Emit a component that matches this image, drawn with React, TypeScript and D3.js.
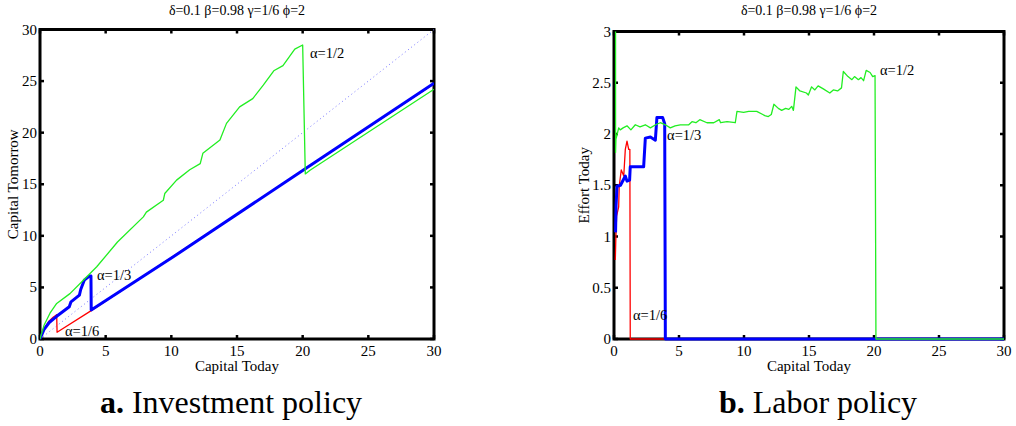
import React from "react";
import * as d3 from "d3";

type P = [number, number];

// ---------- Panel a: Investment policy (Capital Tomorrow vs Capital Today)
const invAlphaHalf: P[] = [
  [0, 0], [0.3, 1.3], [0.76, 2.5], [1.27, 3.45], [2.28, 4.4], [3.3, 5.7], [4.32, 7.0],
  [5.9, 9.4], [7.87, 11.84], [8.1, 12.3], [9.39, 13.45], [9.5, 14.1], [10.4, 15.4],
  [11.4, 16.4], [12.2, 17.0], [12.4, 18.0], [13.7, 19.3], [14.2, 20.9], [15.2, 22.5],
  [16.2, 23.3], [17.0, 24.6], [17.8, 26.0], [18.5, 26.5], [19.4, 28.1], [20.0, 28.5],
  [20.2, 16.0], [20.56, 16.36], [24.9, 19.96], [30, 24.2],
];
const invAlphaThird: P[] = [
  [0, 0], [0.3, 0.9], [0.7, 1.6], [1.27, 2.2], [2.23, 3.13], [2.36, 3.6], [3.0, 4.26],
  [3.1, 4.8], [3.37, 5.7], [3.76, 6.1], [3.88, 6.1], [3.9, 2.8], [10.15, 7.97],
  [20.2, 16.5], [30, 24.8],
];
const invAlphaSixth: P[] = [
  [0, 0], [0.3, 0.95], [0.7, 1.75], [1.0, 2.1], [1.27, 2.35], [1.3, 0.65], [3.9, 2.75],
  [30, 24.75],
];
const invDiagonal: P[] = [[0, 0], [30, 30]];

// ---------- Panel b: Labor policy (Effort Today vs Capital Today)
const labAlphaHalf: P[] = [
  [0.12, 3.0], [0.12, 1.82], [0.15, 1.95], [0.23, 1.99], [0.36, 2.06], [0.48, 2.04],
  [0.7, 2.06], [1.0, 2.08], [1.3, 2.04], [1.64, 2.09], [2.0, 2.07], [2.41, 2.09],
  [2.8, 2.06], [3.2, 2.09], [3.56, 2.11], [3.95, 2.09], [4.33, 2.06], [4.7, 2.08],
  [5.1, 2.09], [5.75, 2.09], [6.0, 2.12], [6.3, 2.11], [6.6, 2.14], [7.15, 2.11],
  [7.67, 2.11], [8.1, 2.14], [8.2, 2.11], [8.7, 2.12], [9.33, 2.11], [9.46, 2.22],
  [9.97, 2.21], [10.36, 2.22], [10.98, 2.22], [11.6, 2.18], [11.87, 2.17], [12.1, 2.19],
  [12.3, 2.29], [12.64, 2.25], [12.9, 2.23], [13.2, 2.25], [13.45, 2.24], [13.67, 2.27],
  [13.8, 2.23], [14.0, 2.46], [14.3, 2.42], [14.8, 2.4], [14.95, 2.38], [15.2, 2.46],
  [15.45, 2.43], [15.7, 2.47], [16.1, 2.44], [16.6, 2.4], [16.87, 2.43], [17.2, 2.42],
  [17.5, 2.45], [17.64, 2.61], [18.0, 2.56], [18.3, 2.53], [18.5, 2.56], [18.8, 2.53],
  [19.0, 2.55], [19.2, 2.52], [19.4, 2.62], [19.7, 2.6], [19.9, 2.56], [20.08, 2.57],
  [20.15, 0], [30, 0],
];
const labAlphaThird: P[] = [
  [0.12, 1.04], [0.16, 1.3], [0.23, 1.49], [0.5, 1.5], [0.87, 1.59], [1.0, 1.54],
  [1.2, 1.55], [1.25, 1.68], [2.28, 1.68], [2.41, 1.96], [2.8, 1.97], [3.18, 1.94],
  [3.3, 2.16], [3.74, 2.16], [3.9, 2.1], [3.95, 0], [30, 0],
];
const labAlphaSixth: P[] = [
  [0.1, 0.77], [0.14, 0.97], [0.2, 1.2], [0.36, 1.29], [0.4, 1.49], [0.56, 1.65],
  [0.75, 1.59], [0.87, 1.85], [1.0, 1.93], [1.13, 1.85], [1.22, 1.85], [1.25, 0],
  [3.95, 0],
];

const xTicks = [0, 5, 10, 15, 20, 25, 30];
const invYTicks = [0, 5, 10, 15, 20, 25, 30];
const labYTicks = [0, 0.5, 1, 1.5, 2, 2.5, 3];

const titleText = "δ=0.1 β=0.98 γ=1/6 ϕ=2";
const xLabel = "Capital Today";
const FONT = "'Liberation Serif', 'Times New Roman', serif";

type Series = { data: P[]; color: string; width: number; dash?: string };
type Ann = { x: number; y: number; text: string };

function Panel(props: {
  x0: number; x1: number; y0: number; y1: number;
  yMax: number; yTicks: number[]; yLabel: string; yLabelX: number;
  series: Series[]; anns: Ann[];
}) {
  const { x0, x1, y0, y1, yMax, yTicks, yLabel, yLabelX, series, anns } = props;
  const xs = d3.scaleLinear().domain([0, 30]).range([x0, x1]);
  const ys = d3.scaleLinear().domain([0, yMax]).range([y0, y1]);
  const line = d3.line<P>().x((d) => xs(d[0])).y((d) => ys(d[1]));
  const tl = 4;
  const cx = (x0 + x1) / 2;
  const cy = (y0 + y1) / 2;
  return (
    <g>
      <defs>
        <clipPath id={`clip${x0}`}>
          <rect x={x0} y={y1 - 2} width={x1 - x0} height={y0 - y1 + 4} />
        </clipPath>
      </defs>
      {/* frame */}
      <rect x={x0} y={y1} width={x1 - x0} height={y0 - y1} fill="none" stroke="#000" strokeWidth={3} />
      {xTicks.map((t) => (
        <g key={`x${t}`}>
          <line x1={xs(t)} x2={xs(t)} y1={y0} y2={y0 - tl} stroke="#000" strokeWidth={2.5} />
          <line x1={xs(t)} x2={xs(t)} y1={y1} y2={y1 + tl} stroke="#000" strokeWidth={2.5} />
          <text x={xs(t)} y={y0 + 17} textAnchor="middle" fontSize={15} fontFamily={FONT}>{t}</text>
        </g>
      ))}
      {yTicks.map((t) => (
        <g key={`y${t}`}>
          <line x1={x0} x2={x0 + tl} y1={ys(t)} y2={ys(t)} stroke="#000" strokeWidth={2.5} />
          <line x1={x1} x2={x1 - tl} y1={ys(t)} y2={ys(t)} stroke="#000" strokeWidth={2.5} />
          <text x={x0 - 3} y={ys(t) + 5} textAnchor="end" fontSize={15} fontFamily={FONT}>{t}</text>
        </g>
      ))}
      <g clipPath={`url(#clip${x0})`}>
        {series.map((s, i) => (
          <path key={i} d={line(s.data) || ""} fill="none" stroke={s.color}
            strokeWidth={s.width} strokeDasharray={s.dash} strokeLinejoin="round" />
        ))}
      </g>
      {anns.map((a, i) => (
        <text key={i} x={xs(a.x)} y={ys(a.y)} fontSize={14.5} fontFamily={FONT} fill="#000">{a.text}</text>
      ))}
      <text x={cx} y={15} textAnchor="middle" fontSize={14} fontFamily={FONT}>{titleText}</text>
      <text x={cx} y={y0 + 32} textAnchor="middle" fontSize={15} fontFamily={FONT}>{xLabel}</text>
      <text transform={`translate(${yLabelX},${cy}) rotate(-90)`} textAnchor="middle" fontSize={15} fontFamily={FONT}>{yLabel}</text>
    </g>
  );
}

export default function App() {
  const green = "#22ee22";
  const red = "#ff0000";
  const blue = "#0000ff";
  return (
    <svg width={1016} height={426} style={{ position: "absolute", left: 0, top: 0, background: "#fff" }}>
      <Panel x0={40} x1={434} y0={339} y1={29.5} yMax={30} yTicks={invYTicks}
        yLabel="Capital Tomorrow" yLabelX={18}
        series={[
          { data: invDiagonal, color: "#7777ff", width: 1, dash: "1,3" },
          { data: invAlphaSixth, color: red, width: 1.3 },
          { data: invAlphaThird, color: blue, width: 3 },
          { data: invAlphaHalf, color: green, width: 1.3 },
        ]}
        anns={[
          { x: 20.56, y: 27.2, text: "α=1/2" },
          { x: 4.34, y: 5.71, text: "α=1/3" },
          { x: 1.9, y: 0.29, text: "α=1/6" },
        ]}
      />
      <Panel x0={614} x1={1004} y0={339} y1={31.5} yMax={3} yTicks={labYTicks}
        yLabel="Effort Today" yLabelX={589}
        series={[
          { data: labAlphaSixth, color: red, width: 1.3 },
          { data: labAlphaThird, color: blue, width: 3 },
          { data: labAlphaHalf, color: green, width: 1.3 },
        ]}
        anns={[
          { x: 20.46, y: 2.58, text: "α=1/2" },
          { x: 4.08, y: 1.94, text: "α=1/3" },
          { x: 1.46, y: 0.19, text: "α=1/6" },
        ]}
      />
      <text x={231} y={413} textAnchor="middle" fontSize={32} fontFamily={FONT}>
        <tspan fontWeight="bold">a.</tspan> Investment policy
      </text>
      <text x={818} y={413} textAnchor="middle" fontSize={32} fontFamily={FONT}>
        <tspan fontWeight="bold">b.</tspan> Labor policy
      </text>
    </svg>
  );
}
